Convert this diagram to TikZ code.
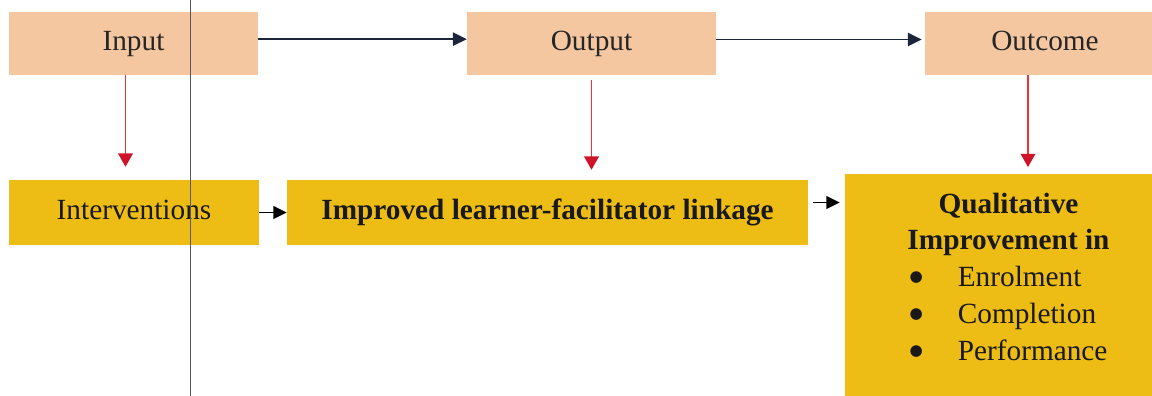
\documentclass[tikz,border=0pt]{standalone}
\usepackage{fontspec}
\setmainfont{Liberation Serif}
\newfontfamily\dotfont{DejaVu Sans}
\usetikzlibrary{arrows.meta,positioning}
\definecolor{peach}{RGB}{244,199,160}
\definecolor{gold}{RGB}{237,189,22}
\definecolor{navy}{RGB}{28,38,58}
\definecolor{redline}{RGB}{240,50,50}
\definecolor{redhead}{RGB}{205,20,40}
\newcommand\bigdot{\raisebox{3.6pt}{\dotfont\fontsize{13}{13}\selectfont ●}}
\tikzset
{
    stagebox/.style  = {rectangle, fill=peach, minimum height=1.89cm, align=center, text=black!85, text height=17.5pt, text depth=5pt, font=\fontsize{25}{30}\selectfont},
    resultbox/.style = {rectangle, fill=gold, minimum height=1.95cm, align=center, text=black!90, text height=17.5pt, text depth=5pt, font=\fontsize{25}{31.6}\selectfont},
    flowarrow/.style = {draw=navy, line width=1.7pt, -{Triangle[length=0.42cm,width=0.40cm]}},
    downarrow/.style = {draw=redline, line width=1.5pt, -{Triangle[length=0.40cm,width=0.44cm,color=redhead]}},
    linkarrow/.style = {draw=black, line width=1.4pt, -{Triangle[length=0.40cm,width=0.38cm]}},
    pageedge/.style  = {draw=black!65, line width=0.8pt}
}

\begin{document}
\begin{tikzpicture}[x=0.03cm, y=-0.03cm]
	 \useasboundingbox (0,0) rectangle (1152,396);

   \node (in)   [stagebox, minimum width=7.47cm]  at (133.5, 43.5)   {Input};
   \node (out)  [stagebox, minimum width=7.47cm]  at (591.5, 43.5)   {Output};
   \node (oc)   [stagebox, minimum width=7.20cm]  at (1045, 43.5)    {Outcome};

   \node (iv)   [resultbox, minimum width=7.50cm]  at (134, 212.5)   {Interventions};
   \node (imp)  [resultbox, minimum width=15.63cm] at (547.5, 212.5) {\textbf{Improved learner-facilitator linkage}};
   \node (qual) [resultbox, minimum width=9.81cm, minimum height=7.26cm, text height=, text depth=] at (1008.5, 295) {};
   \node (qualtext) [below=0.59cm of qual.north, anchor=north, inner sep=0pt, align=center, text=black!90, font=\fontsize{25}{31.6}\selectfont]
	    {\textbf{Qualitative}\\[-1.7pt] \textbf{Improvement in}\\
	     \begin{tabular}[t]{@{}l@{\hspace{1.05cm}}l@{}}
	       \bigdot & Enrolment\\
	       \bigdot & Completion\\
	       \bigdot & Performance
	     \end{tabular}};

	 \coordinate (lk) at ([yshift=0.3cm]imp.east);

	 \path
	    ([yshift=0.13cm]in.east)   edge[flowarrow]  ([yshift=0.13cm]out.west)
	    ([yshift=0.12cm]out.east)  edge[flowarrow, shorten >=0.09cm]  ([yshift=0.12cm]oc.west)
	    ([xshift=-0.24cm]in.south) edge[downarrow, shorten >=0.39cm]  ([xshift=-0.24cm]in.south |- iv.north)
	    (out.south)                edge[downarrow, shorten <=0.15cm, shorten >=0.3cm]  (out.south |- imp.north)
	    ([xshift=-0.51cm]oc.south) edge[downarrow, shorten >=0.2cm]   ([xshift=-0.51cm]oc.south |- qual.north)
	    (iv.east)                  edge[linkarrow]  (imp.west)
	    (lk)                       edge[linkarrow, shorten <=0.15cm, shorten >=0.15cm]  (lk -| qual.west);

	 \draw[pageedge] (190.5, 0) -- (190.5, 396);
\end{tikzpicture}
\end{document}
